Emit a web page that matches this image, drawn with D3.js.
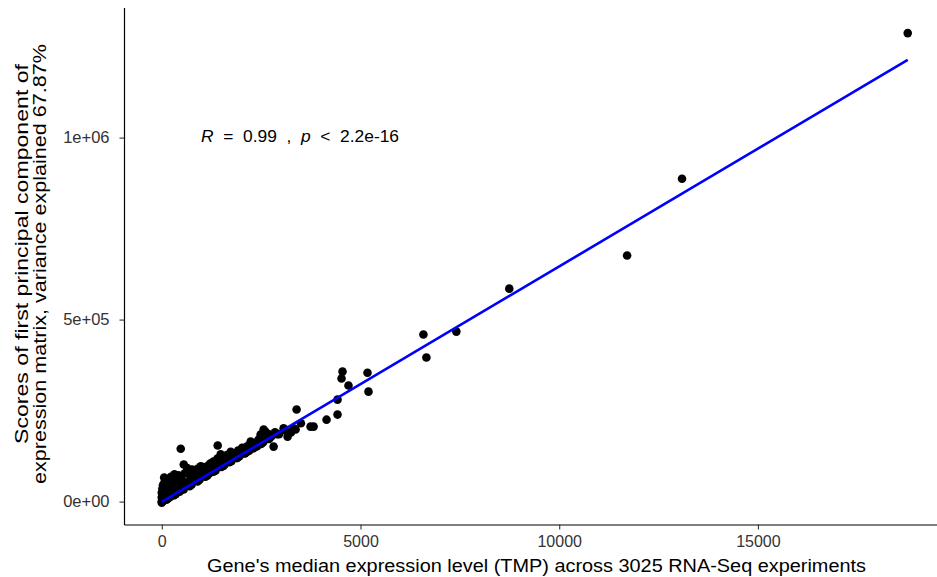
<!DOCTYPE html>
<html>
<head>
<meta charset="utf-8">
<script src="https://cdn.jsdelivr.net/npm/d3@7"></script>
<style>
  html, body { margin: 0; padding: 0; background: #fff; }
  svg { display: block; font-family: "Liberation Sans", Arial, sans-serif; }
</style>
</head>
<body>
<svg id="chart" width="937" height="577"></svg>
<script>
// ---- data ----
// Gene median expression (TPM) and PC1 score
const geneTPM = [
  0, 0, 0, 0, 10, 15, 20, 30, 40, 50, 60, 70, 80, 90, 100, 110, 120, 140, 160, 180,
  200, 220, 250, 270, 300, 330, 360, 400, 420, 450, 477, 500, 530, 553, 580, 600, 650, 680, 720, 760,
  800, 850, 900, 950, 1000, 1050, 1080, 1120, 1180, 1200, 1250, 1300, 1350, 1407, 1400, 1450, 1482, 1520, 1580, 1620,
  1680, 1734, 1760, 1820, 1880, 1920, 1980, 2050, 2080, 2150, 2200, 2237, 2280, 2350, 2400, 2450, 2487, 2520, 2563, 2613,
  2650, 2700, 2750, 2814, 2850, 2950, 3065, 3166, 3250, 3317, 3367, 3392, 3500, 3744, 3820, 4146, 4422, 4422, 4523, 4548,
  4698, 5176, 5201, 6583, 6658, 7412, 8744, 11708, 13090, 18769,
  300, 450, 700, 900, 1100, 1300, 1500, 1700, 1900, 2100, 2300, 2500, 2700, 2900, 3100,
  150, 350, 550, 750, 950, 1150, 1350, 1550, 1750, 1950, 2150, 2350, 2550,
  60, 130, 230, 320, 640, 980, 1230, 1640, 2020, 2420
];
const pcScore = [
  0, 12000, 25000, -3000, 5000, 35000, 18000, 45000, 2000, 28000, 50000, 10000, 38000, 55000, 20000, 62000, 5000, 45000, 30000, 58000,
  12000, 40000, 63000, 22000, 50000, 68000, 30000, 55000, 72000, 35000, 145000, 62000, 42000, 102000, 78000, 50000, 85000, 55000, 70000, 88000,
  58000, 75000, 90000, 65000, 82000, 95000, 70000, 88000, 100000, 78000, 92000, 110000, 88000, 154000, 118000, 98000, 130000, 112000, 102000, 122000,
  110000, 137000, 118000, 128000, 120000, 140000, 130000, 145000, 132000, 152000, 140000, 165000, 150000, 160000, 152000, 172000, 184000, 162000, 198000, 192000,
  172000, 185000, 178000, 151000, 190000, 185000, 201000, 178000, 190000, 201000, 198000, 253000, 215000, 206000, 206000, 225000, 239000, 280000, 338000, 357000,
  319000, 354000, 302000, 459000, 396000, 467000, 585000, 676000, 887000, 1287000,
  17000, 27000, 42000, 55000, 68000, 82000, 95000, 108000, 120000, 133000, 146000, 158000, 172000, 185000, 196000,
  8000, 20000, 33000, 46000, 60000, 72000, 85000, 98000, 111000, 124000, 137000, 150000, 163000,
  66000, 60000, 68000, 75000, 92000, 97000, 105000, 128000, 148000, 168000
];
// Linear fit (intercept, slope) as drawn in the reference
const fitIntercept = -1000;
const fitSlope = 64.7;
// Axis ticks
const xTicks = [0, 5000, 10000, 15000];
const xTickLabels = ["0", "5000", "10000", "15000"];
const yTicks = [0, 500000, 1000000];
const yTickLabels = ["0e+00", "5e+05", "1e+06"];
const xTitle = "Gene's median expression level (TMP) across 3025 RNA-Seq experiments";
const yTitleLines = ["Scores of first principal component of", "expression matrix, variance explained 67.87%"];

// ---- layout ----
const svg = d3.select("#chart");
const pLeft = 124.5, pBottom = 524.5, pTop = 8, pRight = 945;

const x = d3.scaleLinear().domain([-938, 19707]).range([pLeft, pRight]);
const y = d3.scaleLinear().domain([-63000, 1356000]).range([pBottom, pTop]);

svg.append("rect").attr("width", 937).attr("height", 577).attr("fill", "#fff");

// points
const pts = geneTPM.map((v, i) => [v, pcScore[i]]);
svg.append("g").selectAll("circle").data(pts).join("circle")
  .attr("cx", d => x(d[0])).attr("cy", d => y(d[1]))
  .attr("r", 4.3).attr("fill", "#000");

// regression line
const xMin = d3.min(geneTPM), xMax = d3.max(geneTPM);
svg.append("line")
  .attr("x1", x(xMin)).attr("y1", y(fitIntercept + fitSlope * xMin))
  .attr("x2", x(xMax)).attr("y2", y(fitIntercept + fitSlope * xMax))
  .attr("stroke", "#0000ff").attr("stroke-width", 2.6);

// axes
const xAxis = d3.axisBottom(x).tickValues(xTicks).tickFormat((d, i) => xTickLabels[i]).tickSize(5).tickSizeOuter(0).tickPadding(6);
const gx = svg.append("g").attr("transform", `translate(0,${pBottom})`).call(xAxis);
gx.select(".domain").attr("stroke", "#000").attr("stroke-width", 1.2).attr("d", `M${pLeft},0.5H937`);
gx.selectAll(".tick line").attr("stroke", "#333").attr("stroke-width", 1.1);
gx.selectAll(".tick text").attr("fill", "#333").attr("font-size", 16).attr("font-family", "Liberation Sans, Arial, sans-serif");

const yAxis = d3.axisLeft(y).tickValues(yTicks).tickFormat((d, i) => yTickLabels[i]).tickSize(5).tickSizeOuter(0).tickPadding(10);
const gy = svg.append("g").attr("transform", `translate(${pLeft},0)`).call(yAxis);
gy.select(".domain").attr("stroke", "#000").attr("stroke-width", 1.2).attr("d", `M0,${pTop}V${pBottom + 0.5}`);
gy.selectAll(".tick line").attr("stroke", "#333").attr("stroke-width", 1.1);
gy.selectAll(".tick text").attr("fill", "#333").attr("font-size", 16.5).attr("font-family", "Liberation Sans, Arial, sans-serif");

// axis titles
svg.append("text").attr("x", 536.5).attr("y", 572).attr("text-anchor", "middle")
  .attr("font-size", 17.5).attr("fill", "#000")
  .attr("textLength", 659).attr("lengthAdjust", "spacingAndGlyphs").text(xTitle);

const yTitleGeom = [{cx: 254, len: 380, bx: 28}, {cx: 264, len: 440, bx: 46}];
svg.append("g")
  .selectAll("text").data(yTitleLines).join("text")
  .attr("transform", (d, i) => `translate(${yTitleGeom[i].bx},${yTitleGeom[i].cx}) rotate(-90)`)
  .attr("text-anchor", "middle")
  .attr("font-size", 17.5).attr("fill", "#000")
  .attr("textLength", (d, i) => yTitleGeom[i].len).attr("lengthAdjust", "spacingAndGlyphs")
  .text(d => d);

// annotation
const ann = svg.append("text").attr("x", 201).attr("y", 142).attr("font-size", 16).attr("fill", "#000")
  .attr("xml:space", "preserve").attr("textLength", 198).attr("lengthAdjust", "spacingAndGlyphs");
ann.append("tspan").attr("font-style", "italic").text("R");
ann.append("tspan").text("  =  0.99  ,  ");
ann.append("tspan").attr("font-style", "italic").text("p");
ann.append("tspan").text("  <  2.2e-16");
</script>
</body>
</html>
